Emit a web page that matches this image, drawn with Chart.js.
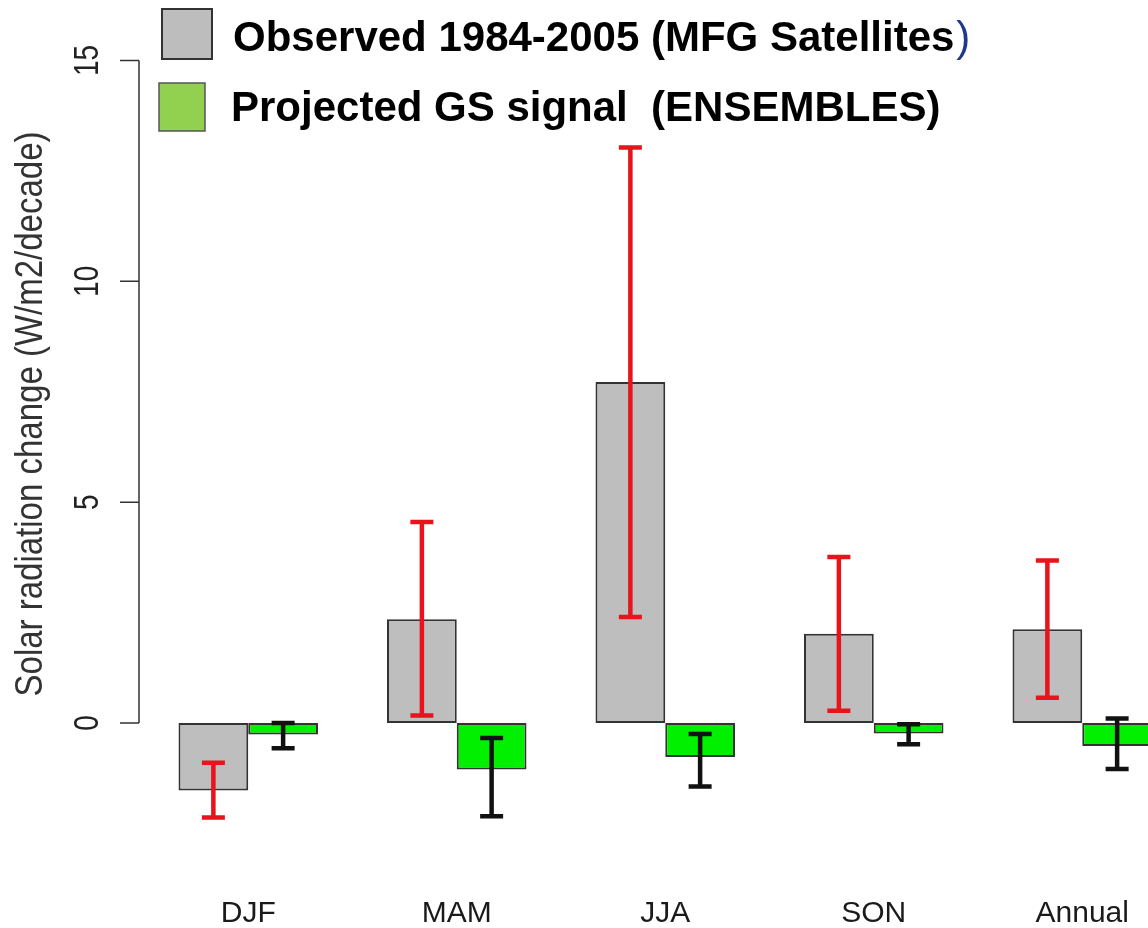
<!DOCTYPE html>
<html lang="en">
<head>
  <meta charset="UTF-8" />
  <title>Solar radiation change</title>
  <script src="https://cdn.jsdelivr.net/npm/chart.js"></script>
  <style>
    html, body { margin: 0; padding: 0; background: #fff; overflow: hidden; }
    #wrap { width: 1200px; height: 928px; }
  </style>
</head>
<body>
  <div id="wrap"><canvas id="grafico" width="1200" height="928"></canvas></div>

  <script>
    // valores
    const categories = ['DJF', 'MAM', 'JJA', 'SON', 'Annual'];
    const observed = [-1.53, 2.35, 7.72, 2.02, 2.12];
    const observedLow = [-2.14, 0.17, 2.40, 0.28, 0.57];
    const observedHigh = [-0.90, 4.55, 13.03, 3.76, 3.68];
    const projected = [-0.26, -1.05, -0.77, -0.24, -0.52];
    const projectedLow = [-0.57, -2.11, -1.44, -0.48, -1.04];
    const projectedHigh = [0.0, -0.34, -0.25, -0.03, 0.10];
    const yTicks = [0, 5, 10, 15];

    const fonte = "'Liberation Sans', Arial, sans-serif";

    // barras de erro desenhadas com a escala y do gráfico
    const errorBars = {
      id: 'errorBars',
      afterDatasetsDraw(chart) {
        const ctx = chart.ctx;
        const y = chart.scales.y;
        chart.data.datasets.forEach((ds, i) => {
          const meta = chart.getDatasetMeta(i);
          ctx.save();
          ctx.strokeStyle = ds.errorColor;
          ctx.lineWidth = 4.5;
          meta.data.forEach((bar, j) => {
            const top = y.getPixelForValue(ds.errHigh[j]);
            const bot = y.getPixelForValue(ds.errLow[j]);
            ctx.beginPath();
            ctx.moveTo(bar.x, top);
            ctx.lineTo(bar.x, bot);
            ctx.moveTo(bar.x - 11.5, top);
            ctx.lineTo(bar.x + 11.5, top);
            ctx.moveTo(bar.x - 11.5, bot);
            ctx.lineTo(bar.x + 11.5, bot);
            ctx.stroke();
          });
          ctx.restore();
        });
      }
    };

    // eixo y no estilo do R, título e legenda
    const extras = {
      id: 'extras',
      afterDraw(chart) {
        const ctx = chart.ctx;
        const y = chart.scales.y;
        const axisX = 139;
        ctx.save();
        ctx.strokeStyle = '#333';
        ctx.lineWidth = 1.5;
        ctx.beginPath();
        ctx.moveTo(axisX, y.getPixelForValue(yTicks[0]));
        ctx.lineTo(axisX, y.getPixelForValue(yTicks[yTicks.length - 1]));
        y.ticks.forEach(t => {
          const py = y.getPixelForValue(t.value);
          ctx.moveTo(axisX, py);
          ctx.lineTo(120, py);
        });
        ctx.stroke();

        // texto girado, um pouco esticado na horizontal como no original
        ctx.fillStyle = '#222';
        ctx.textAlign = 'center';
        ctx.textBaseline = 'middle';
        ctx.font = '28px ' + fonte;
        y.ticks.forEach(t => {
          ctx.save();
          ctx.translate(88, y.getPixelForValue(t.value));
          ctx.rotate(-Math.PI / 2);
          ctx.scale(1, 1.25);
          ctx.fillText(String(t.value), 0, 0);
          ctx.restore();
        });

        ctx.save();
        ctx.translate(31, 414);
        ctx.rotate(-Math.PI / 2);
        ctx.scale(1, 1.2);
        ctx.fillStyle = '#333';
        ctx.font = '33px ' + fonte;
        ctx.fillText('Solar radiation change (W/m2/decade)', 0, 0);
        ctx.restore();

        // legenda
        const ds = chart.data.datasets;
        ctx.lineWidth = 2;
        ctx.fillStyle = '#bdbdbd';
        ctx.strokeStyle = '#333';
        ctx.fillRect(162, 9, 50, 50);
        ctx.strokeRect(162, 9, 50, 50);
        ctx.fillStyle = '#92d050';
        ctx.strokeStyle = '#555';
        ctx.lineWidth = 1.5;
        ctx.fillRect(159, 83, 46, 48);
        ctx.strokeRect(159, 83, 46, 48);

        ctx.font = 'bold 42px ' + fonte;
        ctx.textAlign = 'left';
        ctx.textBaseline = 'alphabetic';
        ctx.fillStyle = '#000';
        const l1 = ds[0].label;
        const corpo = l1.slice(0, -1);
        ctx.fillText(corpo, 233, 51);
        const xp = 233 + ctx.measureText(corpo).width + 2;
        ctx.font = '42px ' + fonte;
        ctx.fillStyle = '#1f3a8a';
        ctx.fillText(l1.slice(-1), xp, 51);
        ctx.font = 'bold 42px ' + fonte;
        ctx.fillStyle = '#000';
        ctx.fillText(ds[1].label, 231, 121);
        ctx.restore();
      }
    };

    const ctx = document.getElementById('grafico').getContext('2d');
    new Chart(ctx, {
      type: 'bar',
      data: {
        labels: categories,
        datasets: [
          {
            label: 'Observed 1984-2005 (MFG Satellites)',
            data: observed,
            errLow: observedLow,
            errHigh: observedHigh,
            errorColor: '#e8131b',
            backgroundColor: '#bebebe',
            borderColor: '#333',
            borderWidth: 2,
            borderSkipped: false
          },
          {
            label: 'Projected GS signal  (ENSEMBLES)',
            data: projected,
            errLow: projectedLow,
            errHigh: projectedHigh,
            errorColor: '#111',
            backgroundColor: '#00f000',
            borderColor: '#333',
            borderWidth: 2,
            borderSkipped: false
          }
        ]
      },
      options: {
        responsive: false,
        animation: false,
        layout: { padding: { top: 60.5, right: 13.5, left: 0, bottom: 0 } },
        datasets: { bar: { categoryPercentage: 0.669, barPercentage: 1 } },
        scales: {
          x: {
            grid: { display: false },
            border: { display: false },
            ticks: {
              color: '#1a1a1a',
              font: { family: fonte, size: 30 },
              padding: 32,
              maxRotation: 0
            },
            afterFit(scale) { scale.height = 72.5; }
          },
          y: {
            min: -3,
            max: 15,
            grid: { display: false },
            border: { display: false },
            ticks: { display: false },
            afterBuildTicks(scale) { scale.ticks = yTicks.map(v => ({ value: v })); },
            afterFit(scale) { scale.width = 144; }
          }
        },
        plugins: {
          legend: { display: false },
          tooltip: { enabled: false }
        }
      },
      plugins: [errorBars, extras]
    });
  </script>
</body>
</html>
